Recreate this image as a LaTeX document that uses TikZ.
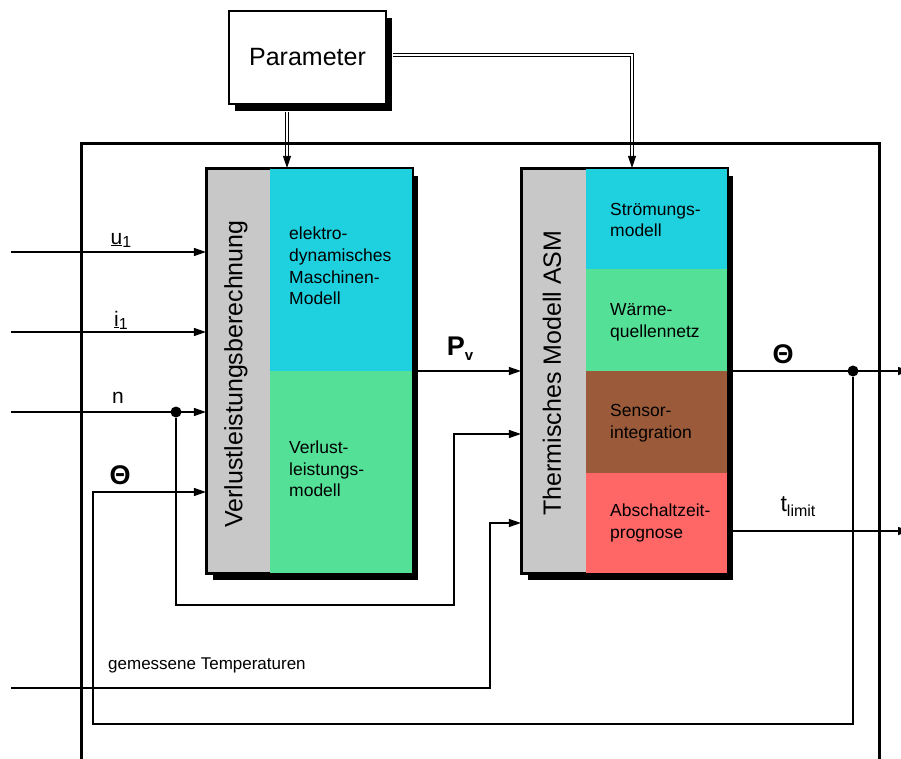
\documentclass[tikz,border=0pt]{standalone}
\usepackage{fontspec}
\setmainfont{Liberation Sans}
\usetikzlibrary{arrows.meta,calc,shadows}
\definecolor{cgrey}{HTML}{C8C8C8}
\definecolor{ccyan}{HTML}{1FD0DF}
\definecolor{cgreen}{HTML}{54E096}
\definecolor{cbrown}{HTML}{9B5B3A}
\definecolor{cred}{HTML}{FF6666}
\begin{document}
\begin{tikzpicture}[x=1pt,y=-1pt,
  arr/.style={line width=1.2pt,-{Triangle[length=12pt,width=8pt]}},
  dbl/.style={line width=0.8pt,double distance=2.4pt},
  outerframe/.style={line width=3pt},
  shad/.style={drop shadow={shadow xshift=6pt,shadow yshift=-7pt,opacity=1,fill=black}},
  blk/.style={draw,line width=2.2pt,fill=cgrey,inner sep=0,minimum width=205pt,minimum height=404pt,shad},
  secttext/.style={font=\fontsize{17.5}{21.7}\selectfont,align=left,anchor=west,inner sep=0},
  vtext/.style={font=\fontsize{25}{30}\selectfont,rotate=90,inner sep=0},
  lbl/.style={font=\fontsize{21}{25}\selectfont,inner sep=0},
  biglbl/.style={font=\fontsize{27}{30}\selectfont\bfseries,inner sep=0},
  dot/.style={circle,fill=black,inner sep=0,minimum size=11pt},
]
\clip (0,0) rectangle (901,758);
\fill[white] (0,0) rectangle (901,758);

% Parameter box
\node[draw,fill=white,line width=2.2pt,minimum width=157pt,minimum height=93pt,shad,
      font=\fontsize{25}{30}\selectfont] (param) at (307.5,57.5) {Parameter};

% blocks
\node[blk] (b1) at (309.5,371) {};
\fill[ccyan] ([xshift=64pt]b1.north west) rectangle (b1.east);
\fill[cgreen] ([xshift=64pt]b1.west) rectangle (b1.south east);
\draw[line width=2.2pt] (b1.north west) rectangle (b1.south east);
\node[vtext] (v1) at ([xshift=30pt,yshift=-3pt]b1.west) {Verlustleistungsberechnung};
\node[secttext] (t11) at (289,266) {elektro-\\dynamisches\\Maschinen-\\Modell};
\node[secttext] (t12) at (289,469) {Verlust-\\leistungs-\\modell};

\node[blk] (b2) at (624.5,371) {};
\fill[ccyan] ([xshift=65pt]b2.north west) rectangle ($(b2.north east)!0.25!(b2.south east)$);
\fill[cgreen] ($(b2.north west)!0.25!(b2.south west)+(65,0)$) rectangle (b2.east);
\fill[cbrown] ([xshift=65pt]b2.west) rectangle ($(b2.north east)!0.75!(b2.south east)$);
\fill[cred] ($(b2.north west)!0.75!(b2.south west)+(65,0)$) rectangle (b2.south east);
\draw[line width=2.2pt] (b2.north west) rectangle (b2.south east);
\node[vtext] (v2) at ([xshift=31pt,yshift=-2pt]b2.west) {Thermisches Modell ASM};
\node[secttext] (t21) at (610,220) {Strömungs-\\modell};
\node[secttext] (t22) at (610,322) {Wärme-\\quellennetz};
\node[secttext] (t23) at (610,423) {Sensor-\\integration};
\node[secttext] (t24) at (610,523) {Abschaltzeit-\\prognose};

% parameter connections
\coordinate (p1) at (287,157);
\coordinate (p2) at (632,55);
\coordinate (p2d) at (632,157);
\draw[dbl] ([yshift=-7pt]param.south -| p1) -- (p1);
\draw[arr,line width=0.8pt] ([yshift=1pt]p1) -- (b1.north -| p1);
\draw[dbl] ([xshift=6pt]param.east |- p2) -- (p2) -- (p2d);
\draw[arr,line width=0.8pt] ([yshift=1pt]p2d) -- (b2.north -| p2d);

% inputs
\coordinate (u1in) at (11,252);
\coordinate (i1in) at (11,332);
\coordinate (nin) at (11,412);
\draw[arr] (u1in) -- (u1in -| b1.west);
\draw[arr] (i1in) -- (i1in -| b1.west);
\draw[arr] (nin) -- (nin -| b1.west);
\node[dot] (ndot) at (176,412) {};
\node[lbl] (u1l) at (121,240) {\underline{u}\raisebox{-3pt}{\fontsize{16}{16}\selectfont 1}};
\node[lbl] (i1l) at (121,320) {\underline{i}\raisebox{-3pt}{\fontsize{16}{16}\selectfont 1}};
\node[lbl] (nl) at (118,398) {n};
\node[biglbl] (thl) at (120,475) {Θ};

% P_v
\draw[arr] (b1.east) -- (b1.east -| b2.west);
\node[biglbl] (pvl) at (460,349) {P\raisebox{-5pt}{\fontsize{15}{15}\selectfont\bfseries v}};

% outputs
\coordinate (thout) at (910,371);
\coordinate (tlout) at (910,531);
\node[dot] (odot) at (853,371) {};
\draw[arr] (b2.east) -- (thout);
\draw[arr] (tlout -| b2.east) -- (tlout);
\node[biglbl] (thol) at (783,354) {Θ};
\node[lbl,font=\fontsize{23}{25}\selectfont] (tll) at (798,507) {t\raisebox{-5pt}{\fontsize{16}{16}\selectfont limit}};

% feedback Theta
\coordinate (thin) at (93,492);
\draw[arr] (odot) -- (853,724) -- (93,724) -- (thin) -- (thin -| b1.west);

% n branch
\coordinate (nb) at (454,434);
\draw[arr] (ndot) -- (176,605) -- (454,605) -- (nb) -- (nb -| b2.west);

% gemessene Temperaturen
\coordinate (gin) at (11,688);
\coordinate (gb) at (490,523);
\draw[arr] (gin) -- (490,688) -- (gb) -- (gb -| b2.west);
\node[font=\fontsize{17}{20}\selectfont,anchor=west,inner sep=0] (gl) at (108,665) {gemessene Temperaturen};

% outer frame
\draw[outerframe] (81,770) -- (81,143) -- (879,143) -- (879,770);
\end{tikzpicture}
\end{document}
